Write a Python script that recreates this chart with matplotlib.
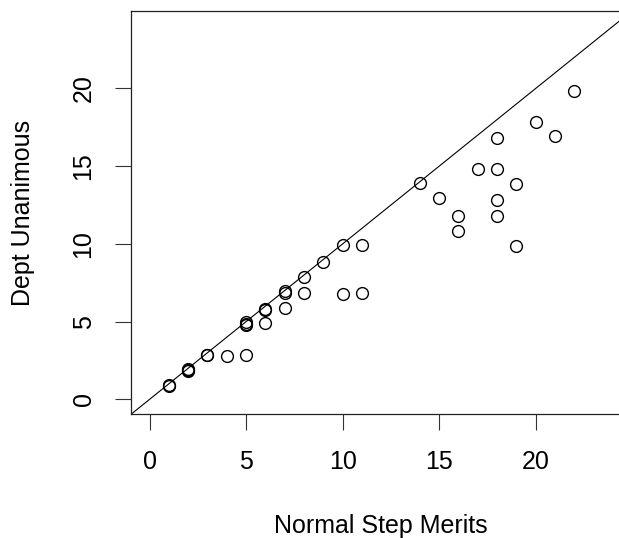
import matplotlib
matplotlib.use("Agg")
import matplotlib.pyplot as plt

normal_step = [1, 1, 2, 2, 2, 3, 3, 4, 5, 5, 5, 5, 6, 6, 6, 7, 7, 7, 8, 8, 9, 10, 10,
               11, 11, 14, 15, 16, 16, 17, 18, 18, 18, 18, 19, 19, 20, 21, 22]
dept_unanimous = [0.86, 0.9, 1.9, 1.85, 1.95, 2.83, 2.88, 2.79, 2.88, 4.87, 4.8, 4.95,
                  5.82, 5.78, 4.94, 7.0, 6.82, 5.9, 7.88, 6.85, 8.85, 9.9, 6.78,
                  9.9, 6.85, 13.92, 12.93, 11.79, 10.8, 14.82, 14.82, 16.79, 12.8,
                  11.79, 13.83, 9.84, 17.87, 16.95, 19.82]
ticks = [0, 5, 10, 15, 20]

plt.rcParams['font.family'] = ['Liberation Sans', 'DejaVu Sans']
fig = plt.figure(figsize=(6.19, 5.38), dpi=100)
ax = fig.add_axes([131 / 619, 1 - 414.3 / 538, 500.5 / 619, 403 / 538])

ax.plot(normal_step, dept_unanimous, linestyle='none', marker='o', markersize=8.5,
        markerfacecolor='none', markeredgecolor='black', markeredgewidth=1.0)
ax.axline((0, 0), slope=1, color='black', linewidth=0.8)

ax.set_xlim(-0.96, 24.96)
ax.set_ylim(-0.96, 24.96)
ax.set_xticks(ticks)
ax.set_yticks(ticks)
ax.set_xticklabels([str(t) for t in ticks], fontsize=18)
ax.set_yticklabels([str(t) for t in ticks], fontsize=18, rotation=90, va='center')
ax.tick_params(axis='both', length=11.5, width=0.8, color='#333333')
ax.tick_params(axis='x', pad=14)
ax.tick_params(axis='y', pad=14)
for s in ax.spines.values():
    s.set_linewidth(0.9)
    s.set_color('#222222')

ax.set_xlabel('Normal Step Merits', fontsize=18, labelpad=29)
ax.set_ylabel('Dept Unanimous', fontsize=18, labelpad=26)

fig.savefig('out.png', dpi=100)
